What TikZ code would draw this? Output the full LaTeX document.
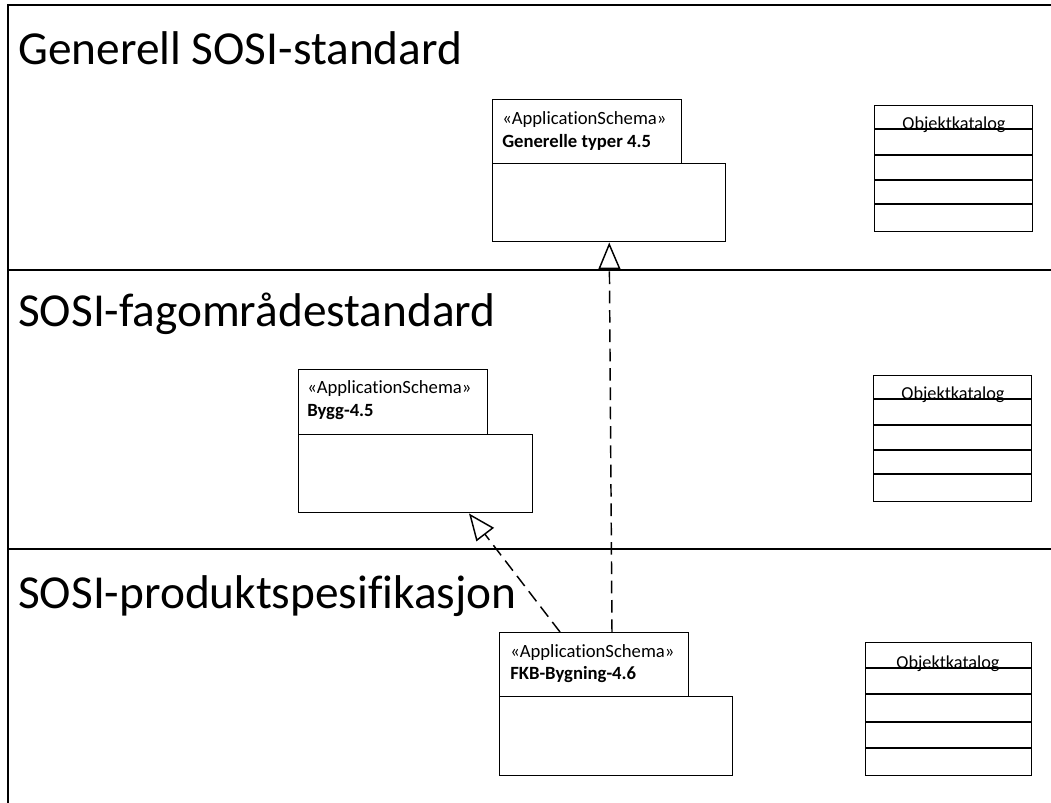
\documentclass[tikz,border=0pt]{standalone}
\usepackage{fontspec}
\setmainfont[Ligatures=NoCommon]{Carlito}
\usetikzlibrary{arrows.meta,calc}
\begin{document}
\begin{tikzpicture}[x=0.75pt,y=-0.75pt,
  frame/.style={line width=1.3pt},
  box/.style={draw,line width=1.1pt,inner sep=0pt,anchor=north west},
  title/.style={anchor=base west,inner sep=0pt,font=\fontsize{35.5}{40}\selectfont},
  stereo/.style={anchor=base west,inner sep=0pt,font=\fontsize{14}{16}\selectfont},
  pname/.style={anchor=base west,inner sep=0pt,font=\fontsize{14}{16}\selectfont\bfseries},
  oklabel/.style={anchor=base,inner sep=0pt,font=\fontsize{13.7}{16}\selectfont},
  real/.style={line width=1.1pt,dash pattern=on 9.5pt off 5pt,
    -{Triangle[open,length=20pt,width=16.5pt,line width=1.1pt]}},
  every node/.append style={text=black}]
\useasboundingbox (0,0) rectangle (1051,803);
% frame
\draw[frame] (1051,5) -- (8,5) -- (8,803);
\draw[frame] (8,270) -- (1051,270);
\draw[frame] (8,549) -- (1051,549);
\node[title] (t1) at (18,64) {Generell SOSI-standard};
\node[title] (t2) at (18,326) {SOSI-fagområdestandard};
\node[title] (t3) at (18,608) {SOSI-produktspesifikasjon};
% package Generelle typer
\node[box,minimum width=141.75pt,minimum height=48pt] (gtab) at (492,99) {};
\node[box,minimum width=174.75pt,minimum height=58.5pt] (gbody) at (492,163) {};
\node[stereo] (gs) at (502,124) {«ApplicationSchema»};
\node[pname] (gn) at (502,147) {Generelle typer 4.5};
% package Bygg
\node[box,minimum width=141.75pt,minimum height=48.75pt] (btab) at (298,369) {};
\node[box,minimum width=175.5pt,minimum height=58.5pt] (bbody) at (298,434) {};
\node[stereo] (bs) at (307,393) {«ApplicationSchema»};
\node[pname] (bn) at (307,416) {Bygg-4.5};
% package FKB
\node[box,minimum width=141.75pt,minimum height=48pt] (ftab) at (499,632) {};
\node[box,minimum width=174.75pt,minimum height=59.25pt] (fbody) at (499,696) {};
\node[stereo] (fs) at (510,657) {«ApplicationSchema»};
\node[pname] (fn) at (510,679) {FKB-Bygning-4.6};
% Objektkatalog boxes
\node[box,minimum width=118.5pt,minimum height=94.5pt] (ok1) at (874,105) {};
\foreach \yy in {129,155,180,204} \draw[line width=1.1pt] (ok1.west |- 0,\yy) -- (ok1.east |- 0,\yy);
\node[oklabel] (ok1l) at (954,129) {Objektkatalog};
\node[box,minimum width=118.5pt,minimum height=94.5pt] (ok2) at (873,375) {};
\foreach \yy in {399,425,450,474} \draw[line width=1.1pt] (ok2.west |- 0,\yy) -- (ok2.east |- 0,\yy);
\node[oklabel] (ok2l) at (953,399) {Objektkatalog};
\node[box,minimum width=124.5pt,minimum height=99.75pt] (ok3) at (865,642) {};
\foreach \yy in {668,694,722,748} \draw[line width=1.1pt] (ok3.west |- 0,\yy) -- (ok3.east |- 0,\yy);
\node[oklabel] (ok3l) at (948,668) {Objektkatalog};
% realizations
\draw[real] ($(ftab.north west)+(113,0)$) -- (gbody.south);
\draw[real] ($(ftab.north west)+(61,0)$) -- ($(bbody.south west)+(171,0)$);
\end{tikzpicture}
\end{document}
